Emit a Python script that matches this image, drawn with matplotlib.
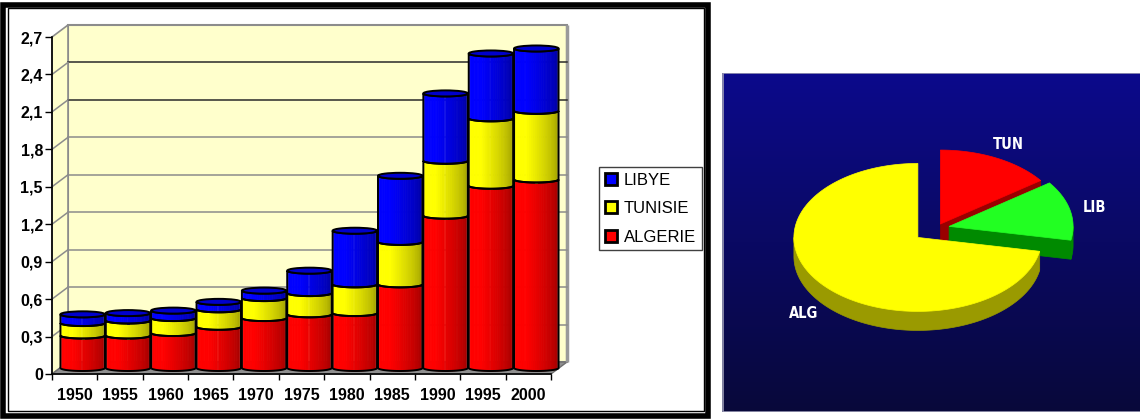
import numpy as np
import matplotlib
matplotlib.use("Agg")
import matplotlib.pyplot as plt
from matplotlib.patches import Polygon, Ellipse, Rectangle, Patch
from matplotlib.collections import PolyCollection

plt.rcParams['font.family'] = ['Liberation Sans', 'DejaVu Sans']

# ---- stacked cylinder chart data ----
years = ['1950', '1955', '1960', '1965', '1970', '1975', '1980', '1985', '1990', '1995', '2000']
algerie = [0.26, 0.26, 0.28, 0.33, 0.40, 0.43, 0.44, 0.67, 1.22, 1.46, 1.51]
tunisie = [0.10, 0.12, 0.12, 0.14, 0.16, 0.17, 0.23, 0.34, 0.44, 0.54, 0.55]
libye = [0.07, 0.06, 0.06, 0.06, 0.06, 0.18, 0.43, 0.53, 0.54, 0.52, 0.50]
y_ticks = [0, 0.3, 0.6, 0.9, 1.2, 1.5, 1.8, 2.1, 2.4, 2.7]
y_tick_labels = ['0', '0,3', '0,6', '0,9', '1,2', '1,5', '1,8', '2,1', '2,4', '2,7']
series_names = ['ALGERIE', 'TUNISIE', 'LIBYE']
series_colors = [(1.0, 0.0, 0.0), (1.0, 1.0, 0.0), (0.0, 0.0, 1.0)]

# ---- pie data ----
pie_labels = ['ALG', 'LIB', 'TUN']
pie_shares = [72, 13, 15]
pie_top_colors = ['#ffff00', '#22ff22', '#ff0000']
pie_side_colors = ['#9a9a00', '#008a00', '#9a0000']
pie_explode = [0.2, 0.1, 0.06]

W, H, DPI = 1140, 419, 100
fig = plt.figure(figsize=(W / DPI, H / DPI), dpi=DPI)
fig.patch.set_facecolor('white')


def px_axes(x0, y0, x1, y1):
    return fig.add_axes([x0 / W, 1 - y1 / H, (x1 - x0) / W, (y1 - y0) / H])


# ================= left: 3D stacked cylinders =================
ax = px_axes(52, 37, 551, 374)
n = len(years)
ymax = y_ticks[-1]
ax.set_xlim(-0.5, n - 0.5)
ax.set_ylim(0, ymax)
ax.patch.set_visible(False)

px_per_x = 499 / n
px_per_y = 337 / ymax
ddx = 16 / px_per_x   # depth of the box
ddy = 12 / px_per_y

wall = '#ffffcc'
edge_grey = '#8c8c8c'
# back wall, side wall, floor
ax.add_patch(Rectangle((-0.5 + ddx, ddy), n, ymax, fc=wall, ec=edge_grey, lw=1.5,
                       clip_on=False, zorder=0.5))
ax.add_patch(Polygon([(-0.5, 0), (-0.5, ymax), (-0.5 + ddx, ymax + ddy), (-0.5 + ddx, ddy)],
                     closed=True, fc=wall, ec=edge_grey, lw=1.2, clip_on=False, zorder=0.5))
ax.add_patch(Polygon([(-0.5, 0), (n - 0.5, 0), (n - 0.5 + ddx, ddy), (-0.5 + ddx, ddy)],
                     closed=True, fc='#8f8f8f', ec='#6e6e6e', lw=1, clip_on=False, zorder=0.6))
ax.plot([n - 0.5 + ddx, n - 0.5 + ddx], [ddy, ymax + ddy], color='#9a9a9a', lw=2.5,
        clip_on=False, zorder=0.7, solid_capstyle='butt')

# gridlines on the walls
for v in y_ticks[1:-1]:
    gcol = '#2a2a2a' if v in (2.1, 2.4) else edge_grey
    ax.plot([-0.5 + ddx, n - 0.5 + ddx], [v + ddy, v + ddy], color=gcol, lw=1.1,
            clip_on=False, zorder=0.8)
    ax.plot([-0.5, -0.5 + ddx], [v, v + ddy], color=edge_grey, lw=1.1,
            clip_on=False, zorder=0.8)

# cylinder shading profile across the bar
t_prof = np.linspace(0, 1, 36)
shade = np.where(t_prof < 0.35, 1.0, 1.0 - 0.42 * (t_prof - 0.35) / 0.65)
hl = 0.35 * np.exp(-((t_prof - 0.08) / 0.025) ** 2) + 0.22 * np.exp(-((t_prof - 0.91) / 0.02) ** 2)

half_w = 0.49
ell_h = 3 / px_per_y
theta = np.linspace(np.pi, 0, len(t_prof))
xs_unit = np.cos(theta)
arc_unit = np.sin(theta)


def cylinder_segment(cx, bottom, top, rgb, z):
    xs = cx + half_w * xs_unit
    ytop = top - ell_h * arc_unit
    ybot = bottom - ell_h * arc_unit
    polys, cols = [], []
    base = np.array(rgb)
    for k in range(len(xs) - 1):
        polys.append([(xs[k], ytop[k]), (xs[k + 1], ytop[k + 1]),
                      (xs[k + 1], ybot[k + 1]), (xs[k], ybot[k])])
        c = base * shade[k]
        c = c * (1 - hl[k]) + hl[k]
        cols.append(np.clip(c, 0, 1))
    pc = PolyCollection(polys, facecolors=cols, edgecolors=cols, linewidths=0.6,
                        clip_on=False, zorder=z)
    ax.add_collection(pc)
    outline = np.vstack([np.column_stack([xs, ytop]),
                         np.column_stack([xs[::-1], ybot[::-1]])])
    ax.add_patch(Polygon(outline, closed=True, fill=False, ec='black', lw=1.4,
                         clip_on=False, zorder=z + 0.1))


stack = [algerie, tunisie, libye]
for i in range(n):
    cx = i + ddx / 2
    level = ddy / 2
    z = 2 + i * 0.01
    for values, rgb in zip(stack, series_colors):
        cylinder_segment(cx, level, level + values[i], rgb, z)
        level += values[i]
    cap_rgb = np.array(series_colors[-1]) * 0.8
    ax.add_patch(Ellipse((cx, level), 2 * half_w, 2 * ell_h, fc=cap_rgb, ec='black',
                         lw=1.4, clip_on=False, zorder=z + 0.2))

# axes, ticks and labels
for side in ('top', 'right'):
    ax.spines[side].set_visible(False)
for side in ('left', 'bottom'):
    ax.spines[side].set_color('black')
    ax.spines[side].set_linewidth(1.2)
    ax.spines[side].set_zorder(5)
ax.set_yticks(y_ticks)
ax.set_yticklabels(y_tick_labels, fontsize=11.5, fontweight='bold')
ax.tick_params(axis='y', length=5, width=1, pad=1.5, colors='black')
ax.set_xticks(range(n))
ax.set_xticklabels(years, fontsize=11.5, fontweight='bold')
ax.set_xticks(np.arange(-0.5, n, 1.0), minor=True)
ax.tick_params(axis='x', which='major', length=0, pad=10)
ax.tick_params(axis='x', which='minor', length=4.5, width=1, color='black')

handles = [Patch(fc=c, ec='black', lw=2, label=nm)
           for nm, c in zip(series_names[::-1], series_colors[::-1])]
leg = fig.legend(handles=handles, loc='upper left', bbox_to_anchor=(599 / W, 1 - 167 / H),
                 frameon=True, fancybox=False, edgecolor='#404040', framealpha=1,
                 fontsize=12, handlelength=0.72, handleheight=0.72, handletextpad=0.4,
                 labelspacing=0.8, borderpad=0.35, borderaxespad=0)
leg.get_frame().set_linewidth(1)

# panel frame
fig.add_artist(Rectangle((3 / W, 1 - 416 / H), 705 / W, 411 / H, transform=fig.transFigure,
                         fill=False, ec='black', lw=4))
fig.add_artist(Rectangle((8 / W, 1 - 411 / H), 696 / W, 403 / H, transform=fig.transFigure,
                         fill=False, ec='black', lw=1))

# ================= right: 3D exploded pie =================
x0, y0, x1, y1 = 722, 73, 1140, 412
pax = px_axes(x0, y0, x1, y1)
bg = np.linspace(0, 1, 256)[:, None]
top_c = np.array([12, 10, 140]) / 255
bot_c = np.array([8, 8, 58]) / 255
grad = (top_c[None, None, :] * (1 - bg[:, :, None]) + bot_c[None, None, :] * bg[:, :, None])
pax.imshow(grad, extent=(x0, x1, y1, y0), aspect='auto', interpolation='bilinear', zorder=0)
pax.set_xlim(x0, x1)
pax.set_ylim(y1, y0)
pax.axis('off')
pax.add_patch(Rectangle((x0 + 0.5, y0 + 0.5), x1 - x0, y1 - y0 - 1, fill=False,
                        ec='#9a9ab4', lw=1.2, zorder=1))

pc_x, pc_y = 937, 228
ra, rb, depth = 124, 74, 19


def rim(cx, cy, ang):
    return cx + ra * np.cos(ang), cy - rb * np.sin(ang)


total = float(sum(pie_shares))
starts = 90 + 360 * np.concatenate([[0], np.cumsum(pie_shares)[:-1]]) / total
spans = 360 * np.array(pie_shares) / total
slices = []
for lab, s0, sp, tc, sc, ex in zip(pie_labels, starts, spans, pie_top_colors,
                                   pie_side_colors, pie_explode):
    a1, a2 = np.radians(s0), np.radians(s0 + sp)
    mid = (a1 + a2) / 2
    cx = pc_x + ex * ra * np.cos(mid)
    cy = pc_y - ex * rb * np.sin(mid)
    slices.append((lab, a1, a2, mid, cx, cy, tc, sc))

# back slices first
for lab, a1, a2, mid, cx, cy, tc, sc in sorted(slices, key=lambda s: -np.sin(s[3])):
    # visible outer wall (front half of the rim)
    for k in (-1, 0, 1):
        lo = max(a1, np.pi + 2 * np.pi * k)
        hi = min(a2, 2 * np.pi + 2 * np.pi * k)
        if hi > lo:
            ang = np.linspace(lo, hi, 120)
            rx, ry = rim(cx, cy, ang)
            pts = np.vstack([np.column_stack([rx, ry]),
                             np.column_stack([rx[::-1], ry[::-1] + depth])])
            pax.add_patch(Polygon(pts, closed=True, fc=sc, ec=sc, lw=0.5, zorder=2))
    # radial cut faces facing the viewer
    for ang, visible in ((a1, np.cos(a1) > 1e-6), (a2, np.cos(a2) < -1e-6)):
        if visible:
            ex_, ey_ = rim(cx, cy, ang)
            pts = [(cx, cy), (ex_, ey_), (ex_, ey_ + depth), (cx, cy + depth)]
            pax.add_patch(Polygon(pts, closed=True, fc=sc, ec=sc, lw=0.5, zorder=2))
    ang = np.linspace(a1, a2, 200)
    rx, ry = rim(cx, cy, ang)
    pts = np.vstack([[cx, cy], np.column_stack([rx, ry])])
    pax.add_patch(Polygon(pts, closed=True, fc=tc, ec=tc, lw=0.5, zorder=2))
    lx, ly = cx + 1.2 * ra * np.cos(mid), cy - 1.2 * rb * np.sin(mid)
    if np.sin(mid) < 0:
        ly += depth
    pax.text(lx, ly, lab, color='white', fontsize=10.5, fontweight='bold',
             family='DejaVu Sans', fontstretch='condensed',
             ha='center', va='center', zorder=3)

fig.savefig('out.png', dpi=DPI, facecolor='white')
